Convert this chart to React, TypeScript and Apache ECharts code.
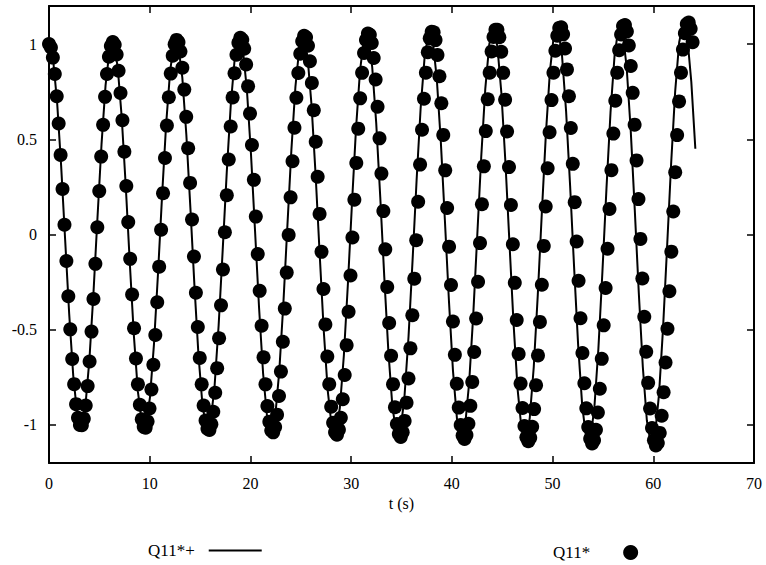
import React, { useEffect, useRef } from "react";
import * as echarts from "echarts";

// Axis ticks / labels
const X_TICKS = [0, 10, 20, 30, 40, 50, 60, 70];
const Y_TICKS = [-1, -0.5, 0, 0.5, 1];

// Sampling steps (s) of the two series
const DOT_DT = 0.1919;
const LINE_DT = 0.4011;

const DOT_Y = [
  1.0, 0.982, 0.929, 0.843, 0.726, 0.583, 0.418, 0.239, 0.051, -0.139, -0.324, -0.498, -0.654, -0.786, -0.891, -0.963, -1.0, -1.002, -0.967, -0.898, -0.796, -0.667, -0.51, -0.339, -0.154, 0.038, 0.228, 0.409, 0.576, 0.723, 0.843, 0.934, 0.99,
  1.011, 0.996, 0.945, 0.86, 0.743, 0.6, 0.435, 0.255, 0.065, -0.128, -0.315, -0.492, -0.651, -0.787, -0.894, -0.97, -1.01, -1.015, -0.982, -0.914, -0.814, -0.684, -0.528, -0.356, -0.169, 0.025, 0.217, 0.402, 0.572, 0.721, 0.845, 0.939, 0.999,
  1.022, 1.01, 0.961, 0.876, 0.761, 0.618, 0.453, 0.271, 0.079, -0.116, -0.306, -0.486, -0.648, -0.787, -0.898, -0.977, -1.02, -1.027, -0.997, -0.931, -0.831, -0.702, -0.545, -0.372, -0.184, 0.012, 0.206, 0.394, 0.567, 0.72, 0.847, 0.944, 1.007,
  1.033, 1.023, 0.976, 0.893, 0.778, 0.635, 0.47, 0.287, 0.094, -0.103, -0.296, -0.479, -0.645, -0.787, -0.901, -0.983, -1.029, -1.039, -1.011, -0.946, -0.848, -0.72, -0.563, -0.389, -0.2, -0.002, 0.195, 0.385, 0.561, 0.718, 0.848, 0.949, 1.015,
  1.044, 1.036, 0.991, 0.91, 0.796, 0.653, 0.487, 0.303, 0.108, -0.091, -0.286, -0.472, -0.641, -0.786, -0.904, -0.989, -1.039, -1.051, -1.025, -0.963, -0.865, -0.738, -0.581, -0.406, -0.215, -0.016, 0.183, 0.376, 0.556, 0.715, 0.849, 0.953, 1.022,
  1.055, 1.049, 1.006, 0.927, 0.814, 0.671, 0.505, 0.32, 0.123, -0.078, -0.276, -0.465, -0.637, -0.786, -0.907, -0.995, -1.048, -1.063, -1.039, -0.979, -0.883, -0.756, -0.598, -0.424, -0.232, -0.03, 0.172, 0.367, 0.55, 0.713, 0.85, 0.957, 1.03,
  1.065, 1.062, 1.021, 0.943, 0.831, 0.689, 0.523, 0.337, 0.139, -0.064, -0.265, -0.457, -0.632, -0.784, -0.909, -1.001, -1.056, -1.074, -1.053, -0.994, -0.9, -0.774, -0.617, -0.441, -0.248, -0.045, 0.159, 0.358, 0.543, 0.71, 0.85, 0.961, 1.037,
  1.075, 1.075, 1.036, 0.96, 0.849, 0.708, 0.541, 0.354, 0.155, -0.051, -0.254, -0.449, -0.627, -0.783, -0.911, -1.006, -1.065, -1.086, -1.067, -1.01, -0.917, -0.792, -0.635, -0.459, -0.264, -0.06, 0.147, 0.348, 0.537, 0.706, 0.85, 0.965, 1.044,
  1.085, 1.088, 1.051, 0.977, 0.867, 0.726, 0.559, 0.371, 0.17, -0.037, -0.243, -0.44, -0.622, -0.781, -0.913, -1.011, -1.073, -1.097, -1.081, -1.026, -0.935, -0.81, -0.653, -0.477, -0.281, -0.075, 0.134, 0.338, 0.53, 0.703, 0.85, 0.968, 1.05,
  1.095, 1.1, 1.066, 0.993, 0.885, 0.744, 0.577, 0.389, 0.186, -0.023, -0.231, -0.432, -0.616, -0.779, -0.914, -1.016, -1.081, -1.108, -1.095, -1.042, -0.952, -0.828, -0.672, -0.495, -0.298, -0.09, 0.121, 0.327, 0.522, 0.699, 0.85, 0.971, 1.057,
  1.105, 1.113, 1.081, 1.01,
];

// Q11*+ model curve
const LINE_Y = [
  1.0, 0.922, 0.698, 0.363, -0.029, -0.418, -0.741, -0.947, -1.004, -0.903, -0.658, -0.31, 0.088, 0.473, 0.783, 0.971,
  1.005, 0.88, 0.616, 0.255, -0.148, -0.527, -0.824, -0.991, -1.002, -0.854, -0.572, -0.198, 0.207, 0.58, 0.862, 1.008,
  0.995, 0.825, 0.524, 0.14, -0.267, -0.632, -0.898, -1.022, -0.985, -0.793, -0.475, -0.081, 0.326, 0.682, 0.931, 1.033,
  0.972, 0.757, 0.423, 0.021, -0.385, -0.73, -0.961, -1.04, -0.955, -0.719, -0.369, 0.04, 0.443, 0.776, 0.987,
  1.043, 0.934, 0.677, 0.313, -0.101, -0.5, -0.82, -1.011, -1.043, -0.91, -0.633, -0.256, 0.163, 0.556, 0.862, 1.032,
  1.039, 0.882, 0.586, 0.197, -0.224, -0.61, -0.901, -1.049, -1.032, -0.851, -0.537, -0.136, 0.286, 0.664, 0.937, 1.063,
  1.021, 0.817, 0.485, 0.075, -0.347, -0.715, -0.97, -1.073, -1.006, -0.78, -0.43, -0.012, 0.408, 0.765, 1.001,
  1.079, 0.987, 0.739, 0.374, -0.051, -0.468, -0.812, -1.028, -1.082, -0.965, -0.696, -0.316, 0.114, 0.527, 0.857, 1.052,
  1.081, 0.939, 0.649, 0.256, -0.178, -0.585, -0.9, -1.073, -1.076, -0.91, -0.6, -0.194, 0.242, 0.641, 0.939, 1.09,
  1.068, 0.877, 0.548, 0.132, -0.306, -0.696, -0.977, -1.103, -1.056, -0.841, -0.494, -0.068, 0.369, 0.749, 1.01, 1.113,
  1.039, 0.802, 0.45,
];

const FONT = "'Liberation Serif', 'Times New Roman', Times, serif";

export default function App() {
  const ref = useRef<HTMLDivElement>(null);

  useEffect(() => {
    if (!ref.current) return;
    const chart = echarts.init(ref.current, null, { renderer: "svg" });

    const axisLine = { show: true, onZero: false, lineStyle: { color: "#000", width: 2 } };
    const tickStyle = { color: "#000", width: 1.5 };
    const labelStyle = { color: "#000", fontFamily: FONT, fontSize: 16 };
    const legendText = { color: "#000", fontFamily: FONT, fontSize: 17 };

    chart.setOption({
      animation: false,
      backgroundColor: "#fff",
      grid: { left: 49, right: 12, top: 6, bottom: 102 },
      xAxis: [
        {
          type: "value",
          position: "bottom",
          min: X_TICKS[0],
          max: X_TICKS[X_TICKS.length - 1],
          interval: 10,
          axisLine,
          axisTick: { show: true, inside: true, length: 7, lineStyle: tickStyle },
          axisLabel: { ...labelStyle, margin: 12 },
          splitLine: { show: false },
          name: "t (s)",
          nameLocation: "middle",
          nameGap: 32,
          nameTextStyle: { ...labelStyle },
        },
        {
          type: "value",
          position: "top",
          min: X_TICKS[0],
          max: X_TICKS[X_TICKS.length - 1],
          interval: 10,
          axisLine,
          axisTick: { show: true, inside: true, length: 7, lineStyle: tickStyle },
          axisLabel: { show: false },
          splitLine: { show: false },
        },
      ],
      yAxis: [
        {
          type: "value",
          position: "left",
          min: -1.2,
          max: 1.2,
          axisLine,
          axisTick: { show: true, inside: true, length: 7, lineStyle: tickStyle, customValues: Y_TICKS },
          axisLabel: { ...labelStyle, margin: 12, customValues: Y_TICKS, formatter: (v: number) => String(v) },
          splitLine: { show: false },
        },
        {
          type: "value",
          position: "right",
          min: -1.2,
          max: 1.2,
          axisLine,
          axisTick: { show: true, inside: true, length: 7, lineStyle: tickStyle, customValues: Y_TICKS },
          axisLabel: { show: false },
          splitLine: { show: false },
        },
      ],
      legend: [
        {
          data: [{ name: "Q11*+", icon: "rect" }],
          left: 143,
          top: 537,
          align: "right",
          itemWidth: 53,
          itemHeight: 2,
          selectedMode: false,
          itemStyle: { color: "#000" },
          textStyle: { ...legendText, padding: [0, 9, 0, 0] },
        },
        {
          data: [{ name: "Q11*", icon: "circle" }],
          left: 548,
          top: 539,
          align: "right",
          itemWidth: 15,
          itemHeight: 15,
          selectedMode: false,
          itemStyle: { color: "#000", opacity: 1 },
          textStyle: { ...legendText, padding: [0, 28, 0, 0] },
        },
      ],
      series: [
        {
          name: "Q11*",
          type: "scatter",
          xAxisIndex: 0,
          yAxisIndex: 0,
          symbol: "circle",
          symbolSize: 14,
          itemStyle: { color: "#000", opacity: 1 },
          data: DOT_Y.map((y, i) => [i * DOT_DT, y]),
        },
        {
          name: "Q11*+",
          type: "line",
          xAxisIndex: 0,
          yAxisIndex: 0,
          symbol: "none",
          lineStyle: { color: "#000", width: 2 },
          itemStyle: { color: "#000" },
          data: LINE_Y.map((y, i) => [i * LINE_DT, y]),
        },
      ],
    });

    return () => chart.dispose();
  }, []);

  return (
    <div
      ref={ref}
      style={{ position: "fixed", left: 0, top: 0, width: 766, height: 565, background: "#fff" }}
    />
  );
}
